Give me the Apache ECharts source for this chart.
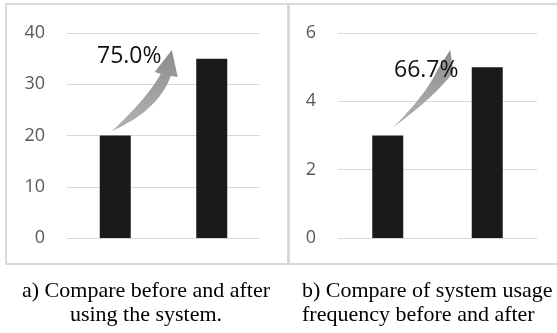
<!DOCTYPE html>
<html>
<head>
<meta charset="utf-8">
<script src="https://cdn.jsdelivr.net/npm/echarts@6/dist/echarts.min.js"></script>
<style>
  html, body { margin: 0; padding: 0; background: #fff; }
  #main { width: 557px; height: 333px; }
</style>
</head>
<body>
<div id="main"></div>
<script>
// data
var categories = ['Before', 'After'];
var usersValues = [20, 35];      // a) before / after using the system
var freqValues = [3, 5];         // b) usage frequency before / after
var usersTicks = { max: 40, interval: 10 };
var freqTicks = { max: 6, interval: 2 };
var usersRate = '75.0%';
var freqRate = '66.7%';

var gridColor = '#d9d9d9';
var labelColor = '#595959';
var barColor = '#1a1a1a';

var chart = echarts.init(document.getElementById('main'));

function yAxis (gridIndex, ticks) {
  return {
    type: 'value',
    gridIndex: gridIndex,
    min: 0,
    max: ticks.max,
    interval: ticks.interval,
    axisLine: { show: false },
    axisTick: { show: false },
    axisLabel: { color: labelColor, fontSize: 18, fontFamily: 'Open Sans', margin: 22 },
    splitLine: { lineStyle: { color: gridColor, width: 1 } }
  };
}

function xAxis (gridIndex) {
  return {
    type: 'category',
    gridIndex: gridIndex,
    data: categories,
    axisLine: { show: false },
    axisTick: { show: false },
    axisLabel: { show: false }
  };
}

chart.setOption({
  animation: false,
  grid: [
    { left: 67, top: 33, width: 193, height: 205 },
    { left: 338, top: 33, width: 199, height: 205 }
  ],
  xAxis: [xAxis(0), xAxis(1)],
  yAxis: [yAxis(0, usersTicks), yAxis(1, freqTicks)],
  series: [
    {
      type: 'bar',
      xAxisIndex: 0,
      yAxisIndex: 0,
      barWidth: 31,
      itemStyle: { color: barColor },
      data: usersValues
    },
    {
      type: 'bar',
      xAxisIndex: 1,
      yAxisIndex: 1,
      barWidth: 31,
      itemStyle: { color: barColor },
      data: freqValues
    }
  ]
});

// curved growth arrows, offsets from the top of the first bar of each panel
function quad (p0, c, p1, n) {
  var pts = [];
  for (var i = 0; i <= n; i++) {
    var t = i / n, u = 1 - t;
    pts.push([u * u * p0[0] + 2 * u * t * c[0] + t * t * p1[0],
              u * u * p0[1] + 2 * u * t * c[1] + t * t * p1[1]]);
  }
  return pts;
}

function arrowPoints (a, origin) {
  var pts = quad(a.tail, a.ic, a.ie, 16);
  a.head.forEach(function (p) { pts.push(p); });
  pts = pts.concat(quad(a.oe, a.oc, a.tail, 16).slice(0, -1));
  return pts.map(function (p) { return [p[0] + origin[0], p[1] + origin[1]]; });
}

var leftArrow = {
  tail: [-3.5, -4.5], ic: [30.5, -35.5], ie: [45.5, -61.5],
  head: [[39.5, -63.5], [56.5, -85.5], [62.5, -58.5]],
  oe: [55.5, -59.5], oc: [43, -25]
};
var rightArrow = {
  tail: [4.5, -7.5], ic: [38, -40.5], ie: [49.5, -65.5],
  head: [[62.5, -85.5]],
  oe: [65.5, -63.5], oc: [48, -39.5]
};

var a0 = chart.convertToPixel({ gridIndex: 0 }, [0, usersValues[0]]);
var a1 = chart.convertToPixel({ gridIndex: 1 }, [0, freqValues[0]]);

var arrowFill = {
  type: 'linear', x: 0, y: 1, x2: 0, y2: 0,
  colorStops: [{ offset: 0, color: '#b4b4b4' }, { offset: 1, color: '#8c8c8c' }]
};

chart.setOption({
  graphic: [
    { type: 'rect', shape: { x: 6, y: 4, width: 282, height: 260 },
      style: { fill: 'none', stroke: gridColor, lineWidth: 2 }, silent: true },
    { type: 'rect', shape: { x: 289, y: 4, width: 300, height: 260 },
      style: { fill: 'none', stroke: gridColor, lineWidth: 2 }, silent: true },
    { type: 'polygon', shape: { points: arrowPoints(leftArrow, a0) },
      style: { fill: arrowFill }, z: 10 },
    { type: 'polygon', shape: { points: arrowPoints(rightArrow, a1) },
      style: { fill: arrowFill }, z: 10 },
    { type: 'text', x: a0[0] + 14, y: a0[1] - 79, z: 20,
      style: { text: usersRate, fill: '#111', fontSize: 23, fontFamily: 'Open Sans',
        textAlign: 'center', textVerticalAlign: 'middle' } },
    { type: 'text', x: a1[0] + 38.5, y: a1[1] - 65.5, z: 20,
      style: { text: freqRate, fill: '#111', fontSize: 23, fontFamily: 'Open Sans',
        textAlign: 'center', textVerticalAlign: 'middle' } },
    // figure captions
    { type: 'text', x: 146, y: 279,
      style: { text: 'a) Compare before and after\nusing the system.', fill: '#000',
        fontSize: 22, fontFamily: 'Liberation Serif', lineHeight: 24,
        textAlign: 'center', textVerticalAlign: 'top' } },
    { type: 'text', x: 302, y: 279,
      style: { text: 'b) Compare of system usage\nfrequency before and after', fill: '#000',
        fontSize: 22, fontFamily: 'Liberation Serif', lineHeight: 24,
        textAlign: 'left', textVerticalAlign: 'top' } }
  ]
});
</script>
</body>
</html>
